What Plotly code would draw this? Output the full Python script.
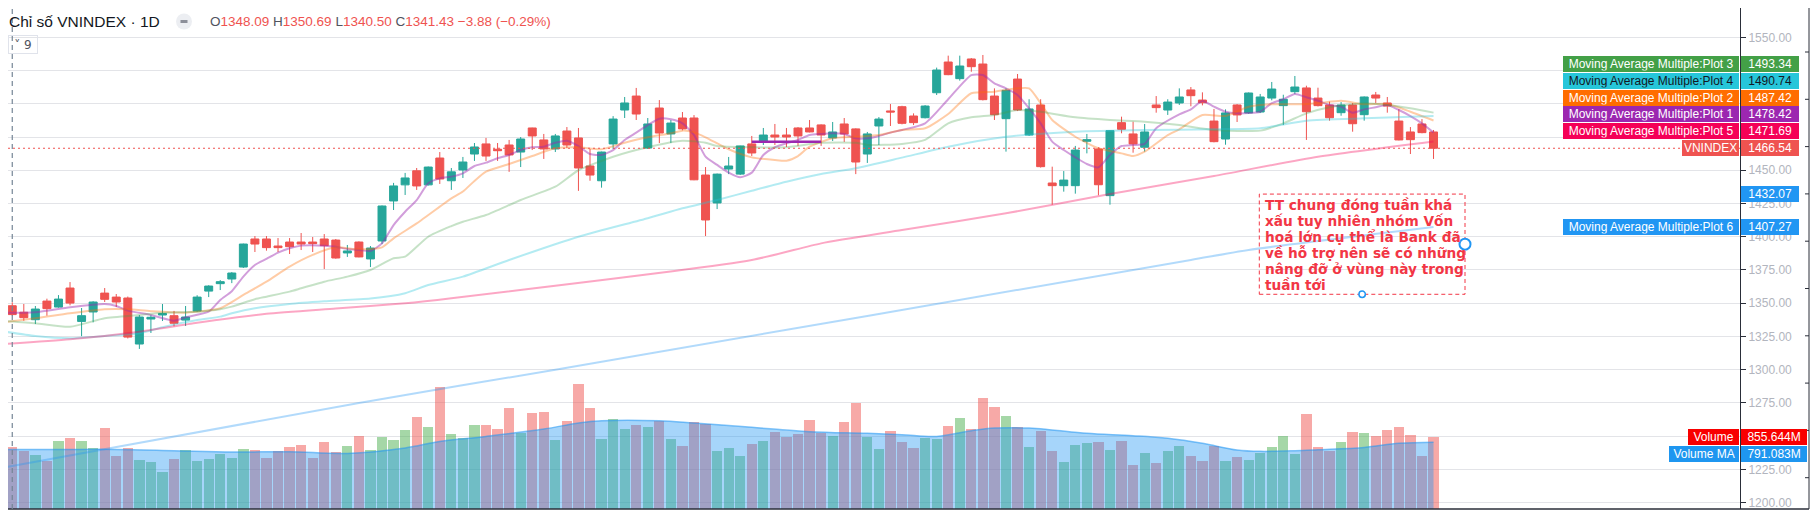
import plotly.graph_objects as go

# ---------------- data (VNINDEX, 1D, 125 sessions) ----------------
opens = [1349.4, 1348.09, 1343.2, 1337.6, 1351.6, 1347.1, 1361.4, 1336.3, 1343.4, 1357.6,
         1354.6, 1353.9, 1319.3, 1338.1, 1341.1, 1340.6, 1337.3, 1344.1, 1359.1, 1364.7,
         1368.2, 1377.2, 1398.3, 1398.3, 1393.0, 1396.0, 1396.0, 1396.0, 1398.3, 1397.5,
         1387.8, 1396.0, 1383.3, 1396.8, 1426.9, 1439.0, 1449.6, 1439.0, 1459.2, 1442.1,
         1450.2, 1462.2, 1469.8, 1465.8, 1469.0, 1463.7, 1481.8, 1472.8, 1466.0, 1479.5,
         1474.3, 1453.2, 1442.1, 1469.8, 1495.3, 1505.8, 1466.7, 1496.8, 1477.3, 1489.3,
         1489.3, 1446.4, 1425.4, 1450.9, 1447.1, 1469.8, 1472.0, 1476.5, 1476.5, 1481.8,
         1481.8, 1484.1, 1474.3, 1484.8, 1481.1, 1462.2, 1483.3, 1494.6, 1497.8, 1490.8,
         1489.5, 1508.3, 1531.4, 1518.9, 1533.7, 1529.9, 1505.8, 1488.8, 1518.6, 1476.5,
         1499.1, 1440.4, 1438.4, 1438.4, 1471.8, 1466.0, 1430.9, 1485.8, 1477.3, 1467.3,
         1499.1, 1495.3, 1500.6, 1510.4, 1502.8, 1487.0, 1473.5, 1499.1, 1493.1, 1493.8,
         1504.3, 1498.6, 1509.1, 1511.9, 1504.3, 1499.1, 1493.3, 1499.1, 1491.8, 1506.6,
         1500.6, 1487.0, 1478.8, 1484.8, 1478.8]
highs = [1351.0, 1350.69, 1349.4, 1347.9, 1353.4, 1356.1, 1365.9, 1346.4, 1351.5, 1361.4,
         1356.9, 1355.0, 1341.1, 1340.9, 1349.4, 1344.2, 1347.9, 1356.0, 1363.5, 1367.4,
         1373.4, 1394.8, 1400.5, 1400.5, 1399.0, 1399.0, 1402.8, 1399.8, 1402.0, 1398.3,
         1393.8, 1396.5, 1393.0, 1423.5, 1440.5, 1448.0, 1451.7, 1452.8, 1463.7, 1451.7,
         1460.0, 1470.5, 1474.3, 1470.5, 1472.8, 1475.0, 1482.0, 1477.3, 1477.3, 1482.5,
         1481.8, 1466.0, 1464.0, 1490.7, 1505.1, 1511.9, 1489.3, 1502.8, 1487.8, 1493.8,
         1491.5, 1452.4, 1447.5, 1460.0, 1468.5, 1475.8, 1481.8, 1484.8, 1481.8, 1482.5,
         1487.8, 1484.5, 1486.3, 1489.3, 1481.5, 1478.8, 1490.0, 1499.8, 1498.5, 1492.8,
         1499.0, 1527.2, 1536.2, 1536.2, 1534.4, 1536.7, 1511.6, 1511.6, 1522.4, 1503.4,
         1503.4, 1452.7, 1449.4, 1468.3, 1477.3, 1467.3, 1480.0, 1490.3, 1486.5, 1484.8,
         1505.8, 1503.4, 1511.6, 1512.6, 1508.6, 1496.1, 1495.8, 1499.8, 1508.5, 1507.4,
         1516.4, 1506.8, 1520.9, 1513.6, 1512.1, 1501.6, 1501.3, 1500.6, 1505.5, 1508.9,
         1505.1, 1496.0, 1482.5, 1488.5, 1480.3]
lows = [1344.0, 1340.50, 1336.8, 1334.3, 1340.6, 1346.6, 1348.4, 1325.2, 1335.6, 1350.9,
        1347.1, 1323.5, 1315.6, 1327.6, 1336.6, 1332.6, 1332.9, 1343.5, 1354.6, 1359.9,
        1365.1, 1376.5, 1388.5, 1389.5, 1388.5, 1387.0, 1390.0, 1388.5, 1375.7, 1383.5,
        1384.8, 1384.5, 1377.2, 1394.5, 1420.1, 1431.4, 1435.2, 1438.5, 1439.7, 1435.2,
        1444.2, 1457.0, 1457.0, 1457.0, 1448.8, 1452.4, 1465.2, 1458.5, 1463.7, 1466.7,
        1434.5, 1442.1, 1436.9, 1466.0, 1489.3, 1487.8, 1466.0, 1470.5, 1470.5, 1480.0,
        1442.5, 1400.5, 1420.8, 1447.1, 1446.4, 1460.7, 1469.0, 1469.0, 1467.5, 1468.3,
        1478.5, 1468.3, 1472.0, 1471.3, 1447.1, 1455.5, 1469.0, 1483.3, 1484.5, 1484.0,
        1489.0, 1506.6, 1521.5, 1517.4, 1524.1, 1502.5, 1487.8, 1464.0, 1494.5, 1475.8,
        1452.0, 1424.1, 1433.9, 1432.4, 1462.7, 1431.2, 1424.1, 1477.8, 1463.2, 1464.0,
        1493.3, 1491.6, 1499.1, 1498.1, 1498.8, 1471.0, 1469.2, 1486.3, 1492.5, 1493.0,
        1502.6, 1484.0, 1507.4, 1472.8, 1498.0, 1487.3, 1491.0, 1479.0, 1487.3, 1500.6,
        1493.3, 1472.5, 1462.2, 1477.8, 1458.5]
closes = [1345.0, 1341.43, 1339.1, 1345.6, 1345.9, 1353.1, 1350.1, 1340.6, 1350.9, 1352.9,
          1350.9, 1324.5, 1339.6, 1339.4, 1342.2, 1334.9, 1339.6, 1354.6, 1362.9, 1366.2,
          1372.7, 1394.5, 1394.5, 1391.8, 1391.8, 1392.5, 1394.5, 1394.8, 1393.3, 1384.0,
          1389.3, 1384.8, 1391.5, 1423.1, 1438.2, 1444.2, 1438.2, 1452.4, 1443.4, 1448.8,
          1456.2, 1467.5, 1460.7, 1464.7, 1461.5, 1473.5, 1475.8, 1466.0, 1475.8, 1469.0,
          1451.7, 1446.4, 1463.7, 1488.5, 1500.6, 1492.3, 1484.8, 1478.0, 1485.5, 1481.1,
          1442.8, 1412.6, 1447.1, 1453.2, 1468.3, 1463.0, 1476.5, 1475.0, 1475.0, 1475.8,
          1478.8, 1476.5, 1478.8, 1477.3, 1456.2, 1477.3, 1488.5, 1493.8, 1485.3, 1485.8,
          1498.3, 1525.4, 1521.9, 1528.4, 1527.9, 1503.1, 1491.8, 1510.1, 1495.3, 1496.1,
          1452.7, 1438.4, 1442.6, 1465.2, 1473.0, 1439.1, 1479.8, 1480.8, 1469.8, 1478.8,
          1497.1, 1501.3, 1505.1, 1506.1, 1500.8, 1471.5, 1493.1, 1491.6, 1508.1, 1505.1,
          1511.1, 1503.4, 1512.6, 1494.0, 1498.6, 1489.5, 1499.1, 1485.0, 1505.1, 1504.3,
          1498.3, 1472.8, 1473.0, 1478.3, 1466.54]
# volume in millions
volumes = [563, 737, 690, 643, 572, 808, 844, 808, 725, 962,
           631, 725, 583, 560, 441, 595, 702, 572, 595, 654,
           607, 713, 702, 607, 690, 737, 761, 607, 796, 678,
           749, 867, 702, 856, 820, 938, 1092, 974, 1447, 891,
           844, 997, 997, 950, 1199, 903, 1140, 1152, 820, 1045,
           1483, 1199, 832, 1069, 950, 997, 974, 1045, 832, 749,
           1033, 1009, 690, 725, 631, 773, 808, 915, 856, 891,
           1057, 903, 867, 1033, 1258, 856, 713, 927, 796, 725,
           844, 832, 986, 1080, 950, 1317, 1211, 1104, 974, 737,
           927, 690, 560, 761, 784, 796, 702, 808, 525, 666,
           548, 690, 749, 631, 572, 749, 572, 619, 583, 666,
           737, 867, 654, 1128, 737, 690, 796, 915, 903, 867,
           938, 974, 879, 631, 855.644]

vol_ma_idx = [0, 5, 10, 15, 20, 25, 30, 35, 38, 42, 47, 50, 52, 57, 60, 65, 70, 75, 78, 81,
              84, 86, 89, 91, 94, 98, 101, 104, 107, 109, 112, 114, 118, 121, 124]
vol_ma_val = [705, 705, 705, 690, 674, 678, 658, 722, 800, 859, 946, 1018, 1045, 1045, 1018,
              966, 915, 895, 879, 859, 927, 958, 958, 935, 895, 867, 836, 777, 698, 682,
              690, 702, 729, 777, 791.083]

# moving averages (index of session, value)
ma1_idx = [0, 3, 6, 9, 10, 11, 13, 15, 16, 18, 19, 20, 21, 22, 23, 24, 25, 26, 28, 29,
           30, 31, 32, 33, 34, 35, 36, 37, 38, 39, 40, 41, 42, 43, 44, 45, 46, 47, 48, 49,
           50, 51, 52, 53, 54, 55, 56, 57, 58, 59, 60, 61, 62, 63, 64, 65, 66, 67, 68, 69,
           70, 71, 72, 73, 74, 75, 76, 77, 78, 80, 82, 84, 85, 86, 87, 88, 89, 90, 91, 92,
           93, 94, 95, 96, 97, 98, 99, 100, 102, 103, 104, 105, 106, 107, 108, 109, 110, 111, 112, 113,
           114, 115, 116, 117, 118, 119, 120, 121, 122, 123, 124]
ma1_val = [1342.9, 1343.2, 1346.9, 1349.4, 1347.9, 1344.4, 1341.1, 1336.8, 1339.4, 1343.6,
           1352.4, 1359.0, 1370.0, 1378.7, 1383.3, 1388.0, 1391.3, 1393.3, 1393.3, 1392.5,
           1390.7, 1390.0, 1389.3, 1395.0, 1408.8, 1418.8, 1427.6, 1440.2, 1443.9, 1445.2,
           1447.7, 1453.2, 1455.7, 1459.0, 1461.5, 1465.2, 1467.3, 1467.7, 1470.7, 1472.2,
           1468.2, 1462.2, 1461.5, 1465.2, 1472.8, 1478.3, 1484.0, 1488.8, 1488.3, 1485.3,
           1476.5, 1460.2, 1454.0, 1448.2, 1444.7, 1448.2, 1461.5, 1467.3, 1470.3, 1472.8,
           1476.5, 1477.3, 1477.8, 1477.3, 1474.0, 1474.0, 1475.8, 1478.3, 1480.3, 1485.3,
           1503.4, 1521.6, 1521.6, 1515.4, 1511.6, 1506.6, 1496.6, 1485.3, 1471.5, 1465.2,
           1459.7, 1454.7, 1452.2, 1461.5, 1468.2, 1469.0, 1469.8, 1481.6, 1492.0, 1495.8,
           1502.1, 1497.8, 1494.0, 1492.8, 1493.0, 1494.0, 1500.4, 1503.4, 1507.4, 1504.9,
           1502.3, 1499.1, 1497.8, 1493.3, 1495.8, 1497.4, 1499.1, 1495.3, 1490.8, 1485.3,
           1478.42]
ma2_idx = [0, 3, 6, 9, 11, 13, 16, 19, 21, 23, 25, 27, 29, 31, 33, 34, 36, 38, 39, 40,
           41, 42, 44, 46, 48, 50, 52, 54, 56, 58, 59, 60, 61, 63, 65, 67, 68, 69, 70, 72,
           74, 76, 78, 80, 82, 84, 86, 88, 89, 90, 91, 93, 95, 97, 98, 99, 101, 102, 104, 106,
           108, 110, 112, 114, 116, 118, 120, 122, 124]
ma2_val = [1335.3, 1338.6, 1342.4, 1345.4, 1345.4, 1344.0, 1342.9, 1346.2, 1356.2, 1366.2,
           1377.5, 1386.3, 1392.0, 1390.5, 1392.0, 1398.8, 1410.0, 1422.6, 1428.9, 1434.0,
           1442.0, 1449.0, 1454.7, 1460.7, 1466.5, 1467.3, 1465.8, 1470.7, 1474.8, 1477.8,
           1479.8, 1478.5, 1474.8, 1465.8, 1459.7, 1457.7, 1457.2, 1460.7, 1467.7, 1474.0,
           1475.2, 1476.5, 1480.3, 1481.6, 1492.3, 1507.9, 1509.1, 1511.6, 1511.6, 1500.4,
           1487.8, 1475.2, 1466.5, 1462.7, 1460.7, 1464.0, 1476.5, 1480.8, 1491.6, 1490.8,
           1497.8, 1499.6, 1499.6, 1500.4, 1502.3, 1499.6, 1499.8, 1494.0, 1487.42]
ma3_idx = [0, 3, 6, 9, 12, 14, 17, 19, 20, 22, 23, 25, 26, 28, 30, 32, 34, 35, 37, 39,
           40, 42, 45, 48, 50, 53, 56, 59, 61, 62, 65, 68, 71, 74, 75, 78, 80, 82, 84, 86,
           88, 90, 93, 96, 99, 102, 105, 109, 111, 113, 115, 118, 120, 122, 124]
ma3_val = [1336.8, 1334.9, 1332.3, 1338.6, 1341.1, 1342.9, 1343.6, 1345.4, 1347.4, 1353.0,
           1354.9, 1358.7, 1361.2, 1366.2, 1370.0, 1375.0, 1383.8, 1385.0, 1400.0, 1408.0,
           1411.3, 1416.3, 1427.6, 1437.6, 1450.0, 1460.2, 1467.3, 1472.2, 1470.7, 1468.2,
           1467.3, 1467.3, 1470.7, 1470.7, 1469.0, 1469.8, 1472.8, 1485.3, 1489.8, 1491.6,
           1495.3, 1494.0, 1489.8, 1487.8, 1486.5, 1484.0, 1480.3, 1479.8, 1485.3, 1492.8,
           1497.4, 1500.4, 1499.1, 1496.6, 1493.34]
ma4_idx = [0, 3, 6, 9, 12, 14, 17, 19, 20, 22, 25, 28, 32, 35, 37, 40, 44, 50, 56, 59,
           62, 65, 68, 71, 74, 78, 82, 87, 93, 99, 105, 109, 113, 118, 124]
ma4_val = [1329.1, 1325.3, 1323.6, 1325.3, 1327.4, 1331.9, 1337.4, 1339.9, 1342.4, 1346.2,
           1349.4, 1351.4, 1353.5, 1357.5, 1363.7, 1370.0, 1382.5, 1400.0, 1413.9, 1421.4,
           1427.6, 1434.6, 1441.4, 1447.2, 1451.5, 1459.5, 1467.7, 1475.2, 1479.0, 1480.3,
           1480.8, 1481.6, 1487.3, 1489.1, 1490.74]
ma5_idx = [0, 6, 12, 17, 23, 29, 35, 39, 65, 71, 78, 87, 96, 105, 114, 124]
ma5_val = [1319.1, 1322.8, 1328.6, 1335.3, 1342.0, 1346.0, 1350.0, 1353.8, 1382.5, 1395.0,
           1405.0, 1417.6, 1432.1, 1445.7, 1460.2, 1471.69]
ma6_idx = [0, 31, 48, 103, 108, 124]
ma6_val = [1226.0, 1275.0, 1300.0, 1382.5, 1390.0, 1407.27]

ma_names = ["Plot 1", "Plot 2", "Plot 3", "Plot 4", "Plot 5", "Plot 6"]
ma_colors = ["#9c27b0", "#ff6d00", "#43a047", "#26c6da", "#f50057", "#2196f3"]
ma_lines = ["rgba(156,39,176,0.45)", "rgba(255,109,0,0.35)", "rgba(67,160,71,0.3)",
            "rgba(38,198,218,0.35)", "rgba(245,0,87,0.35)", "rgba(33,150,243,0.35)"]
ma_idx = [ma1_idx, ma2_idx, ma3_idx, ma4_idx, ma5_idx, ma6_idx]
ma_val = [ma1_val, ma2_val, ma3_val, ma4_val, ma5_val, ma6_val]

callout_lines = ["TT chung đóng tuần khá", "xấu tuy nhiên nhóm Vốn",
                 "hoá lớn cụ thể là Bank đã", "về hỗ trợ nên sẽ có những",
                 "nâng đỡ ở vùng này trong", "tuần tới"]
callout_top = 1432.07
callout_bottom = 1356.7
cross_idx = 1

# ---------------- geometry (reference pixels; the page body adds an 8px margin) ----------------
OFF = 8
W, H = 1818, 514
PR, PB = 1740, 509                     # plot right / bottom in reference pixels
STEP = 11.555                          # px per session
X0 = 0.7                               # px of session 0
PX_PER_PT = 1.3295
Y1550 = 37.3
YR = [1550 - (PB - Y1550) / PX_PER_PT, 1550 + (Y1550 - OFF) / PX_PER_PT]
VOL_PX = 0.0845                        # px per million shares
VR = [0, (PB - OFF) / VOL_PX]
PW, PH = PR - OFF, PB - OFF


def px(p):
    return OFF + (YR[1] - p) * PX_PER_PT


def xp(x):
    return (x - OFF) / PW


def yp(y):
    return (PB - y) / PH


n = len(closes)
idx = list(range(n))
up = [c >= o for o, c in zip(opens, closes)]
vol_colors = ["rgba(76,175,80,0.5)" if u else "rgba(239,83,80,0.5)" for u in up]

fig = go.Figure()
fig.add_trace(go.Bar(x=idx, y=volumes, marker_color=vol_colors, marker_line_width=0,
                     width=0.89, yaxis="y", showlegend=False))
fig.add_trace(go.Scatter(x=vol_ma_idx, y=vol_ma_val, mode="lines", fill="tozeroy",
                         fillcolor="rgba(33,150,243,0.4)",
                         line=dict(color="rgba(33,150,243,0.55)", width=1.5, shape="spline"),
                         yaxis="y", showlegend=False))
fig.add_trace(go.Candlestick(x=idx, open=opens, high=highs, low=lows, close=closes,
                             increasing=dict(line=dict(color="#26a69a", width=1), fillcolor="#26a69a"),
                             decreasing=dict(line=dict(color="#ef5350", width=1), fillcolor="#ef5350"),
                             whiskerwidth=0, yaxis="y2", showlegend=False))
for k in range(6):
    fig.add_trace(go.Scatter(x=ma_idx[k], y=ma_val[k], mode="lines",
                             line=dict(color=ma_lines[k], width=2, shape="spline", smoothing=0.6),
                             yaxis="y2", showlegend=False))

# price labels stacked at the right edge (moving averages 1-5 + last price)
stack = [("VNINDEX", closes[-1], "#ef5350", "white", 54)]
for k in range(5):
    tc = "#131722" if k == 3 else "white"
    stack.append((f"Moving Average Multiple:{ma_names[k]}", ma_val[k][-1], ma_colors[k], tc, 173))
stack.sort(key=lambda s: s[1])
placed = []
prev_px = None
for name, val, col, tc, nw in stack:
    own = px(val)
    pos = own if prev_px is None else min(own, prev_px - 16.9)
    prev_px = pos
    placed.append((name, val, col, tc, nw, own - pos, pos))

label_centers = [p[6] for p in placed] + [px(ma6_val[-1]), px(callout_top),
                                          PB - volumes[-1] * VOL_PX]
ticks = list(range(1200, 1551, 25))
ticktext = [("" if any(abs(px(t) - c) < 8 for c in label_centers) else f"{t:.2f}") for t in ticks]

fig.update_layout(
    width=W - OFF, height=H - OFF, margin=dict(l=0, r=W - PR, t=0, b=H - PB),
    paper_bgcolor="white", plot_bgcolor="white",
    boxgap=0.31, boxgroupgap=0, bargap=0,
    font=dict(family="Liberation Sans", size=12, color="#131722"),
    xaxis=dict(range=[(OFF - X0) / STEP, (PR - X0) / STEP], showgrid=False, zeroline=False,
               showticklabels=False, rangeslider=dict(visible=False), fixedrange=True),
    yaxis=dict(range=VR, showgrid=False, zeroline=False, showticklabels=False, visible=False),
    yaxis2=dict(range=YR, overlaying="y", side="right", anchor="x",
                tickvals=ticks, ticktext=ticktext,
                showgrid=True, gridcolor="#e3e4e8", gridwidth=1, zeroline=False,
                showline=True, linecolor="#2a2e39", linewidth=1,
                ticks="outside", ticklen=5, tickcolor="#2a2e39",
                tickfont=dict(family="Liberation Sans", size=12, color="#b2b5be")),
)

shapes = []
# frame lines
shapes.append(dict(type="line", xref="paper", yref="paper", x0=0, x1=xp(1809), y0=0, y1=0,
                   line=dict(color="#2a2e39", width=1.5)))
shapes.append(dict(type="line", xref="paper", yref="paper", x0=xp(1809), x1=xp(1809), y0=0, y1=1,
                   line=dict(color="#2a2e39", width=1)))
ty = 52.0
while ty < PB:
    shapes.append(dict(type="line", xref="paper", yref="paper", x0=xp(1805), x1=xp(1809),
                       y0=yp(ty), y1=yp(ty), line=dict(color="#2a2e39", width=1)))
    ty += 47.3
# crosshair and last price line
shapes.append(dict(type="line", xref="x", yref="paper", x0=cross_idx, x1=cross_idx, y0=0, y1=1,
                   line=dict(color="#758696", width=1.2, dash="5px,4px")))
shapes.append(dict(type="line", xref="paper", yref="y2", x0=0, x1=1, y0=closes[-1], y1=closes[-1],
                   line=dict(color="#ef5350", width=1, dash="2px,3px")))
# purple drawn segment
shapes.append(dict(type="line", xref="x", yref="y2", x0=65, x1=71, y0=1471.5, y1=1471.5,
                   line=dict(color="#9c27b0", width=2.5)))
# callout box
cx0 = (1259.3 - X0) / STEP
cx1 = (1465.0 - X0) / STEP
shapes.append(dict(type="rect", xref="x", yref="y2", x0=cx0, x1=cx1, y0=callout_bottom, y1=callout_top,
                   line=dict(color="#f23645", width=1, dash="4px,3px"), fillcolor="rgba(0,0,0,0)"))
shapes.append(dict(type="circle", xref="x", yref="y2", xsizemode="pixel", ysizemode="pixel",
                   xanchor=cx1, yanchor=(callout_top + callout_bottom) / 2,
                   x0=-5.5, x1=5.5, y0=-5.5, y1=5.5,
                   line=dict(color="#2196f3", width=2), fillcolor="white"))
shapes.append(dict(type="circle", xref="x", yref="y2", xsizemode="pixel", ysizemode="pixel",
                   xanchor=(cx0 + cx1) / 2, yanchor=callout_bottom,
                   x0=-3.2, x1=3.2, y0=-3.2, y1=3.2,
                   line=dict(color="#2196f3", width=1.5), fillcolor="white"))
# header icon
shapes.append(dict(type="circle", xref="paper", yref="paper", x0=xp(176), x1=xp(192),
                   y0=yp(29.5), y1=yp(13.5), line=dict(width=0), fillcolor="#eceef2"))
shapes.append(dict(type="line", xref="paper", yref="paper", x0=xp(180.5), x1=xp(187.5),
                   y0=yp(21.5), y1=yp(21.5), line=dict(color="#8c8f99", width=3)))
fig.update_layout(shapes=shapes)

ann = []
# header
ann.append(dict(xref="paper", yref="paper", x=xp(7), y=yp(21.5), xanchor="left", yanchor="middle",
                text="Chỉ số VNINDEX · 1D", showarrow=False,
                font=dict(family="Liberation Sans", size=15.5, color="#131722")))
o, h, l, c = opens[cross_idx], highs[cross_idx], lows[cross_idx], closes[cross_idx]
red = "#ef5350"
ohlc = (f"O<span style='color:{red}'>{o:.2f}</span> H<span style='color:{red}'>{h:.2f}</span> "
        f"L<span style='color:{red}'>{l:.2f}</span> C<span style='color:{red}'>{c:.2f}</span> "
        f"<span style='color:{red}'>−3.88 (−0.29%)</span>")
ann.append(dict(xref="paper", yref="paper", x=xp(208), y=yp(21.5), xanchor="left", yanchor="middle",
                text=ohlc, showarrow=False,
                font=dict(family="Liberation Sans", size=13.5, color="#50535e")))
ann.append(dict(xref="paper", yref="paper", x=xp(8), y=yp(44.5), xanchor="left", yanchor="middle",
                text="˅ 9", showarrow=False, width=26, height=15, borderpad=1,
                bordercolor="#e0e3eb", borderwidth=1,
                font=dict(family="DejaVu Sans", size=12, color="#50535e")))

# callout text
for k, line in enumerate(callout_lines):
    ann.append(dict(xref="x", yref="y2", x=(1263 - X0) / STEP, y=callout_top, xanchor="left",
                    yanchor="middle", yshift=-(10.9 + 16.0 * k), text=f"<b>{line}</b>",
                    showarrow=False, font=dict(family="DejaVu Sans", size=13.7, color="#f23645")))


def axis_label(value, vtext, color, tcolor, yshift=0, name=None, name_w=None, val_w=55):
    out = [dict(xref="paper", yref="y2", x=xp(1741), y=value, yshift=yshift, xanchor="left",
                yanchor="middle", text=vtext, showarrow=False, bgcolor=color, width=val_w,
                height=13, borderpad=1.6, borderwidth=0, align="center",
                font=dict(family="Liberation Sans", size=12, color=tcolor))]
    if name:
        out.append(dict(xref="paper", yref="y2", x=xp(1739), y=value, yshift=yshift, xanchor="right",
                        yanchor="middle", text=name, showarrow=False, bgcolor=color, width=name_w,
                        height=13, borderpad=1.6, borderwidth=0, align="center",
                        font=dict(family="Liberation Sans", size=12, color=tcolor)))
    return out


for name, val, col, tc, nw, shift, _ in placed:
    ann += axis_label(val, f"{val:.2f}", col, tc, yshift=shift, name=name, name_w=nw)
ann += axis_label(ma6_val[-1], f"{ma6_val[-1]:.2f}", "#2196f3", "white",
                  name="Moving Average Multiple:Plot 6", name_w=173)
ann += axis_label(callout_top, f"{callout_top:.2f}", "#2196f3", "white")

# volume labels
for name, val, col, w_name, extra in [("Volume", volumes[-1], "#f80000", 48, 0),
                                      ("Volume MA", vol_ma_val[-1], "#1e96f0", 67, 1)]:
    y = PB - volumes[-1] * VOL_PX + 17.4 * extra
    for xa, xan, txt, wid in [(xp(1741), "left", f"{val:.3f}M", 63), (xp(1739), "right", name, w_name)]:
        ann.append(dict(xref="paper", yref="paper", x=xa, y=yp(y), xanchor=xan, yanchor="middle",
                        text=txt, showarrow=False, bgcolor=col, width=wid, height=13,
                        borderpad=1.6, borderwidth=0, align="center",
                        font=dict(family="Liberation Sans", size=12, color="white")))

fig.update_layout(annotations=ann)
fig.write_html("out.html")
